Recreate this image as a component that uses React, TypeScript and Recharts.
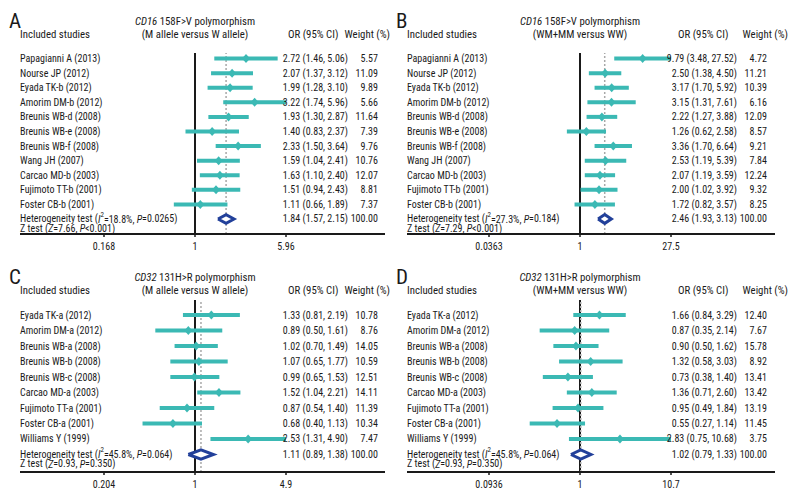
import React from "react";
import { ScatterChart, Scatter, ErrorBar, XAxis, YAxis, ReferenceLine } from "recharts";

const FONT = "'Liberation Sans Narrow', 'Arial Narrow', 'Roboto Condensed', 'DejaVu Sans Condensed', 'Liberation Sans', sans-serif";
const TEAL = "#3bb9b4";
const NAVY = "#22409a";
const INK = "#1a1a1a";
const ROW_FONT = 10;

// CD16 158F>V studies (panels A and B)
const cd16Studies = [
  "Papagianni A (2013)",
  "Nourse JP (2012)",
  "Eyada TK-b (2012)",
  "Amorim DM-b (2012)",
  "Breunis WB-d (2008)",
  "Breunis WB-e (2008)",
  "Breunis WB-f (2008)",
  "Wang JH (2007)",
  "Carcao MD-b (2003)",
  "Fujimoto TT-b (2001)",
  "Foster CB-b (2001)",
];

// A: M allele versus W allele
const aOr = [2.72, 2.07, 1.99, 3.22, 1.93, 1.4, 2.33, 1.59, 1.63, 1.51, 1.11];
const aLo = [1.46, 1.37, 1.28, 1.74, 1.3, 0.83, 1.5, 1.04, 1.1, 0.94, 0.66];
const aHi = [5.06, 3.12, 3.1, 5.96, 2.87, 2.37, 3.64, 2.41, 2.4, 2.43, 1.89];
const aWeight = [5.57, 11.09, 9.89, 5.66, 11.64, 7.39, 9.76, 10.76, 12.07, 8.81, 7.37];
const aPooled = [1.84, 1.57, 2.15];
const aHet = ["18.8%", "=0.0265"];
const aZ = ["7.66", "<0.001"];

// B: WM+MM versus WW
const bOr = [9.79, 2.5, 3.17, 3.15, 2.22, 1.26, 3.36, 2.53, 2.07, 2.0, 1.72];
const bLo = [3.48, 1.38, 1.7, 1.31, 1.27, 0.62, 1.7, 1.19, 1.19, 1.02, 0.82];
const bHi = [27.52, 4.5, 5.92, 7.61, 3.88, 2.58, 6.64, 5.39, 3.59, 3.92, 3.57];
const bWeight = [4.72, 11.21, 10.39, 6.16, 12.09, 8.57, 9.21, 7.84, 12.24, 9.32, 8.25];
const bPooled = [2.46, 1.93, 3.13];
const bHet = ["27.3%", "=0.184"];
const bZ = ["7.29", "<0.001"];

// CD32 131H>R studies (panels C and D)
const cd32Studies = [
  "Eyada TK-a (2012)",
  "Amorim DM-a (2012)",
  "Breunis WB-a (2008)",
  "Breunis WB-b (2008)",
  "Breunis WB-c (2008)",
  "Carcao MD-a (2003)",
  "Fujimoto TT-a (2001)",
  "Foster CB-a (2001)",
  "Williams Y (1999)",
];

// C: M allele versus W allele
const cOr = [1.33, 0.89, 1.02, 1.07, 0.99, 1.52, 0.87, 0.68, 2.53];
const cLo = [0.81, 0.5, 0.7, 0.65, 0.65, 1.04, 0.54, 0.4, 1.31];
const cHi = [2.19, 1.61, 1.49, 1.77, 1.53, 2.21, 1.4, 1.13, 4.9];
const cWeight = [10.78, 8.76, 14.05, 10.59, 12.51, 14.11, 11.39, 10.34, 7.47];
const cPooled = [1.11, 0.89, 1.38];
const cHet = ["45.8%", "=0.064"];
const cZ = ["0.93", "=0.350"];

// D: WM+MM versus WW
const dOr = [1.66, 0.87, 0.9, 1.32, 0.73, 1.36, 0.95, 0.55, 2.83];
const dLo = [0.84, 0.35, 0.5, 0.58, 0.38, 0.71, 0.49, 0.27, 0.75];
const dHi = [3.29, 2.14, 1.62, 3.03, 1.4, 2.6, 1.84, 1.14, 10.68];
const dWeight = [12.4, 7.67, 15.78, 8.92, 13.41, 13.42, 13.19, 11.45, 3.75];
const dPooled = [1.02, 0.79, 1.33];
const dHet = ["45.8%", "=0.064"];
const dZ = ["0.93", "=0.350"];

type Layout = {
  left: number;
  top: number;
  width: number;
  height: number;
  plotLeft: number;
  plotRight: number;
  plotTop: number;
  plotBottom: number;
  padL: number;
  padR: number;
  yPadTop: number;
  yPadBottom: number;
  orRight: number;
  wRight: number;
  orHead: number;
  wHeadRight: number;
  letterX: number;
  centerX: number;
};

type PanelProps = {
  letter: string;
  gene: string;
  variant: string;
  contrast: string;
  names: string[];
  or: number[];
  lo: number[];
  hi: number[];
  weight: number[];
  pooled: number[];
  het: string[];
  z: string[];
  layout: Layout;
};

const fmt = (v: number) => v.toFixed(2);
const tickFmt = (v: number) => String(parseFloat(v.toPrecision(3)));

const StudyMark = (p: any) => (
  <polygon
    points={`${p.cx - 4},${p.cy} ${p.cx},${p.cy - 4.5} ${p.cx + 4},${p.cy} ${p.cx},${p.cy + 4.5}`}
    fill={TEAL}
  />
);

const NoMark = () => <g />;

function Panel(p: PanelProps) {
  const L = p.layout;
  const n = p.names.length;
  const max = Math.max(...p.hi);
  const studies = p.or.map((v, i) => ({ x: v, y: i, err: [v - p.lo[i], p.hi[i] - v] }));
  const [pOr, pLo, pHi] = p.pooled;
  const pooledShape = [
    { x: pLo, y: n },
    { x: pOr, y: n - 0.3 },
    { x: pHi, y: n },
    { x: pOr, y: n + 0.3 },
    { x: pLo, y: n },
  ];
  const rows = Array.from({ length: n + 1 }, (_, i) => i);
  const nameX = L.plotLeft;

  const RowTick = (props: any) => {
    const i = props.payload.value as number;
    const y = props.y;
    if (i < n) {
      return (
        <g fontFamily={FONT} fontSize={ROW_FONT} fill={INK}>
          <text x={nameX} y={y} dominantBaseline="central">{p.names[i]}</text>
          <text x={L.orRight} y={y} textAnchor="end" dominantBaseline="central">
            {`${fmt(p.or[i])} (${fmt(p.lo[i])}, ${fmt(p.hi[i])})`}
          </text>
          <text x={L.wRight} y={y} textAnchor="end" dominantBaseline="central">{fmt(p.weight[i])}</text>
        </g>
      );
    }
    return (
      <g fontFamily={FONT} fontSize={ROW_FONT} fill={INK}>
        <text x={nameX} y={y} dominantBaseline="central">
          Heterogeneity test (<tspan fontStyle="italic">I</tspan>
          <tspan fontSize={7} dy={-4}>2</tspan>
          <tspan dy={4}>{`=${p.het[0]}, `}</tspan>
          <tspan fontStyle="italic">P</tspan>
          {`${p.het[1]})`}
        </text>
        <text x={nameX} y={y + 9.5} dominantBaseline="central">
          Z test (<tspan fontStyle="italic">Z</tspan>
          {`=${p.z[0]}, `}
          <tspan fontStyle="italic">P</tspan>
          {`${p.z[1]})`}
        </text>
        <text x={L.orRight} y={y} textAnchor="end" dominantBaseline="central">
          {`${fmt(pOr)} (${fmt(pLo)}, ${fmt(pHi)})`}
        </text>
        <text x={L.wRight} y={y} textAnchor="end" dominantBaseline="central">100.00</text>
      </g>
    );
  };

  const head: React.CSSProperties = {
    position: "absolute",
    fontSize: 10.8,
    lineHeight: "14px",
    whiteSpace: "nowrap",
    color: INK,
  };

  return (
    <div style={{ position: "absolute", left: L.left, top: L.top, width: L.width, height: L.height }}>
      <div style={{ ...head, left: L.letterX, top: 8, fontSize: 21, lineHeight: "26px" }}>{p.letter}</div>
      <div style={{ ...head, left: L.centerX, top: 15, transform: "translateX(-50%)" }}>
        <i>{p.gene}</i>
        {` ${p.variant} polymorphism`}
      </div>
      <div style={{ ...head, left: nameX, top: 28 }}>Included studies</div>
      <div style={{ ...head, left: L.centerX, top: 28, transform: "translateX(-50%)" }}>{p.contrast}</div>
      <div style={{ ...head, left: L.orHead, top: 28 }}>OR (95% CI)</div>
      <div style={{ ...head, right: L.width - L.wHeadRight, top: 28 }}>Weight (%)</div>
      <div style={{ position: "absolute", left: 0, top: 0 }}>
        <ScatterChart
          width={L.width}
          height={L.height}
          margin={{ top: L.plotTop, left: L.plotLeft - 1, right: L.width - L.plotRight, bottom: 0 }}
        >
          <XAxis
            type="number"
            dataKey="x"
            scale="log"
            domain={[1 / max, max]}
            allowDataOverflow
            ticks={[1 / max, 1, max]}
            tickFormatter={tickFmt}
            padding={{ left: L.padL, right: L.padR }}
            height={L.height - L.plotBottom}
            axisLine={{ stroke: INK, strokeWidth: 2 }}
            tickLine={{ stroke: INK, strokeWidth: 1.5 }}
            tickSize={3}
            tickMargin={6}
            tick={{ fontSize: ROW_FONT, fill: INK, fontFamily: FONT }}
          />
          <YAxis
            type="number"
            dataKey="y"
            reversed
            domain={[-L.yPadTop, n + L.yPadBottom]}
            allowDataOverflow
            ticks={rows}
            interval={0}
            width={1}
            axisLine={false}
            tickLine={false}
            tick={RowTick}
          />
          <ReferenceLine x={1} stroke={INK} strokeWidth={2} />
          <ReferenceLine x={pOr} stroke="#a8a8a8" strokeWidth={1.5} strokeDasharray="2 2" />
          <Scatter data={studies} shape={StudyMark} isAnimationActive={false}>
            <ErrorBar dataKey="err" direction="x" width={0} stroke={TEAL} strokeWidth={4} isAnimationActive={false} />
          </Scatter>
          <Scatter
            data={pooledShape}
            shape={NoMark}
            line={{ stroke: NAVY, strokeWidth: 3, fill: "#ffffff" }}
            lineType="joint"
            isAnimationActive={false}
          />
        </ScatterChart>
      </div>
    </div>
  );
}

const leftTop: Layout = {
  left: 0, top: 0, width: 386, height: 256,
  plotLeft: 20, plotRight: 385, plotTop: 53, plotBottom: 234,
  padL: 84, padR: 99, yPadTop: 0.38, yPadBottom: 1.03,
  orRight: 348, wRight: 378, orHead: 288, wHeadRight: 390, letterX: 9, centerX: 195,
};
const rightTop: Layout = {
  left: 386, top: 0, width: 406, height: 256,
  plotLeft: 21, plotRight: 389, plotTop: 53, plotBottom: 234,
  padL: 82, padR: 104, yPadTop: 0.38, yPadBottom: 1.03,
  orRight: 351, wRight: 381, orHead: 292, wHeadRight: 402, letterX: 10, centerX: 194,
};
const leftBottom: Layout = { ...leftTop, top: 256, height: 248, plotTop: 44, plotBottom: 216, yPadTop: 0.97, yPadBottom: 1.13 };
const rightBottom: Layout = { ...rightTop, top: 256, height: 248, plotTop: 44, plotBottom: 216, yPadTop: 0.97, yPadBottom: 1.13 };

export default function App() {
  return (
    <div style={{ position: "relative", width: 792, height: 504, background: "#fff", fontFamily: FONT }}>
      <style>{"body{margin:0}"}</style>
      <Panel letter="A" gene="CD16" variant="158F>V" contrast="(M allele versus W allele)" names={cd16Studies}
        or={aOr} lo={aLo} hi={aHi} weight={aWeight} pooled={aPooled} het={aHet} z={aZ} layout={leftTop} />
      <Panel letter="B" gene="CD16" variant="158F>V" contrast="(WM+MM versus WW)" names={cd16Studies}
        or={bOr} lo={bLo} hi={bHi} weight={bWeight} pooled={bPooled} het={bHet} z={bZ} layout={rightTop} />
      <Panel letter="C" gene="CD32" variant="131H>R" contrast="(M allele versus W allele)" names={cd32Studies}
        or={cOr} lo={cLo} hi={cHi} weight={cWeight} pooled={cPooled} het={cHet} z={cZ} layout={leftBottom} />
      <Panel letter="D" gene="CD32" variant="131H>R" contrast="(WM+MM versus WW)" names={cd32Studies}
        or={dOr} lo={dLo} hi={dHi} weight={dWeight} pooled={dPooled} het={dHet} z={dZ} layout={rightBottom} />
    </div>
  );
}
